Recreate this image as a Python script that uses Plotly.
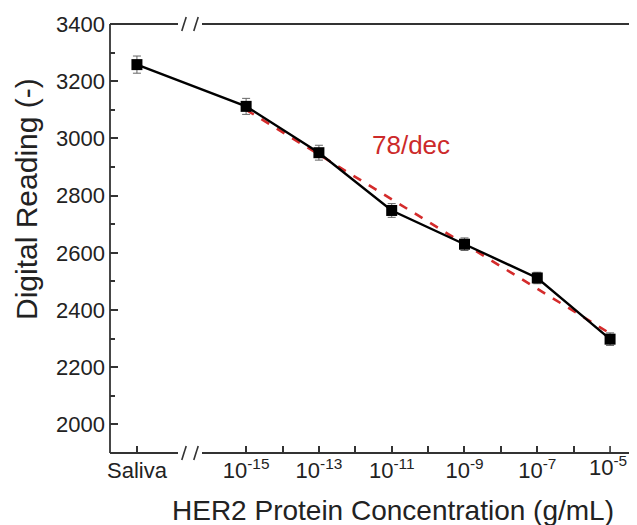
import plotly.graph_objects as go

# ---- data ----
categories = ["Saliva", "1e-15", "1e-13", "1e-11", "1e-9", "1e-7", "1e-5"]
x_exp = [-18, -15, -13, -11, -9, -7, -5]          # Saliva placed left of the axis break
readings = [3258, 3112, 2950, 2748, 2630, 2512, 2298]
errors = [30, 28, 26, 24, 22, 20, 22]
fit_x = [-15, -5]
fit_y = [3100, 2318]
tick_vals = [-18, -15, -13, -11, -9, -7, -5]
tick_text = ["Saliva", "10<sup>-15</sup>", "10<sup>-13</sup>", "10<sup>-11</sup>",
             "10<sup>-9</sup>", "10<sup>-7</sup>", "10<sup>-5</sup>"]
minor_vals = [-14, -12, -10, -8, -6]
slope_label = "78/dec"
x_title = "HER2 Protein Concentration (g/mL)"
y_title = "Digital Reading (-)"

# page body has an 8px default margin: the figure starts at screen (8, 8)
# and the container limits its width to 637 - 16 = 621 px
OFF = 8
W, H = 621, 517
ML, MT, MR = 110 - OFF, 24 - OFF, 0
MB = H - (453 - OFF)
PW, PH = W - ML - MR, H - MT - MB
XR = [-18.74, -4.48]
YR = [1900, 3400]

FONT = "Liberation Sans, Arial, sans-serif"
AX = "#333333"


def px_x(p):   # screen pixel -> paper x
    return (p - 110) / PW


def px_y(p):   # screen pixel -> paper y
    return 1 - (p - 24) / PH


# the last tick label sits against the right edge; plotly would hide it as a
# tick label, so it is drawn as an annotation right-aligned to the edge
axis_ticktext = tick_text[:-1] + [""]

fig = go.Figure()

fig.add_trace(go.Scatter(
    x=fit_x, y=fit_y, mode="lines",
    line=dict(color="#d42b2b", width=2.6, dash="dash"),
    showlegend=False, hoverinfo="skip"))

fig.add_trace(go.Scatter(
    x=x_exp, y=readings, mode="lines+markers",
    line=dict(color="black", width=2.4),
    marker=dict(symbol="square", size=11, color="black"),
    error_y=dict(type="data", array=errors, color="#666666", thickness=1, width=4),
    text=categories, showlegend=False, cliponaxis=False))

# axis frame lines with break marks (pixel-placed decoration)
gap_l, gap_r = px_x(178), px_x(202)
slashes = [px_x(184), px_x(196)]
dx, dy = 2.2 / PW, 7 / PH
shapes = []
for yv in (0, 1):
    shapes.append(dict(type="line", xref="paper", yref="paper", x0=0, x1=gap_l, y0=yv, y1=yv,
                       line=dict(color=AX, width=1.8)))
    shapes.append(dict(type="line", xref="paper", yref="paper", x0=gap_r, x1=1, y0=yv, y1=yv,
                       line=dict(color=AX, width=1.8)))
    for s in slashes:
        shapes.append(dict(type="line", xref="paper", yref="paper",
                           x0=s - dx, x1=s + dx, y0=yv - dy, y1=yv + dy,
                           line=dict(color=AX, width=1.6)))
shapes.append(dict(type="line", xref="paper", yref="paper", x0=0, x1=0, y0=0, y1=1,
                   line=dict(color=AX, width=1.8)))
# tick mark for the last (edge) tick
shapes.append(dict(type="line", xref="x", yref="paper", x0=x_exp[-1], x1=x_exp[-1],
                   y0=0, y1=7 / PH, line=dict(color=AX, width=1.6)))

fig.update_layout(
    width=W, height=H,
    margin=dict(l=ML, r=MR, t=MT, b=MB, pad=0),
    paper_bgcolor="white", plot_bgcolor="white",
    font=dict(family=FONT, size=22, color="#222222"),
    shapes=shapes,
    xaxis=dict(range=XR, showgrid=False, zeroline=False, showline=False, automargin=False,
               tickmode="array", tickvals=tick_vals[:-1], ticktext=axis_ticktext[:-1],
               ticks="inside", ticklen=7, tickwidth=1.6, tickcolor=AX,
               minor=dict(ticks="inside", tickvals=minor_vals, ticklen=7, tickwidth=1.6, tickcolor=AX),
               ticklabelstandoff=2, tickfont=dict(size=22)),
    yaxis=dict(range=YR, showgrid=False, zeroline=False, showline=False, automargin=False,
               tickmode="linear", tick0=2000, dtick=200,
               ticks="inside", ticklen=8, tickwidth=1.6, tickcolor=AX,
               minor=dict(ticks="inside", dtick=100, tick0=1900, ticklen=5, tickcolor=AX, tickwidth=1.6),
               ticklabelstandoff=4, tickfont=dict(size=22)),
    annotations=[
        dict(text=slope_label, x=-11.6, y=2977, xref="x", yref="y", xanchor="left", yanchor="middle",
             showarrow=False, font=dict(size=26, color="#cc2a2a", family=FONT)),
        dict(text=tick_text[-1], x=1, y=px_y(466), xref="paper", yref="paper",
             xanchor="right", yanchor="middle", showarrow=False,
             font=dict(size=22, color="#222222", family=FONT)),
        dict(text=x_title, x=px_x(393), y=px_y(510), xref="paper", yref="paper",
             xanchor="center", yanchor="middle",
             showarrow=False, font=dict(size=28, color="#222222", family=FONT)),
        dict(text=y_title, x=px_x(26), y=px_y(199), xref="paper", yref="paper", textangle=-90,
             xanchor="center", yanchor="middle",
             showarrow=False, font=dict(size=30, color="#222222", family=FONT)),
    ],
)

fig.write_html("out.html")
